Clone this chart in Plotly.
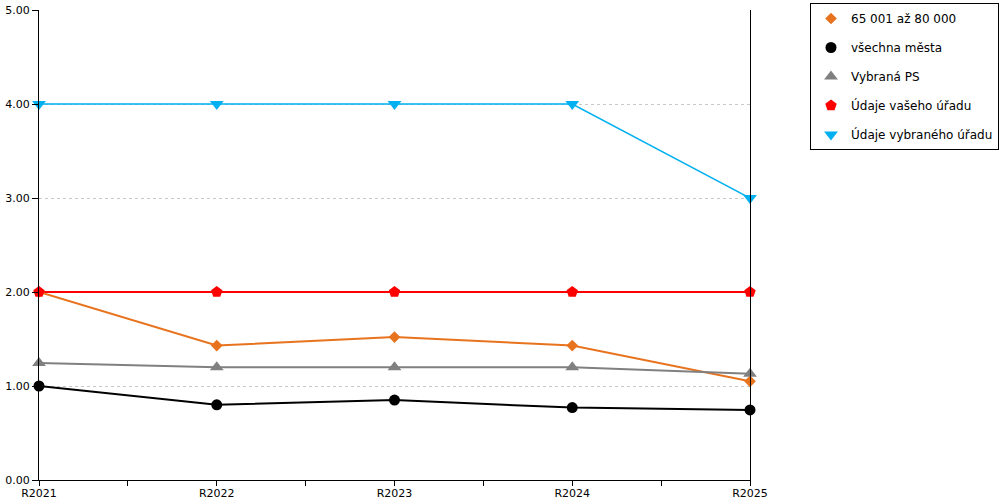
import plotly.graph_objects as go

categories = ["R2021", "R2022", "R2023", "R2024", "R2025"]
s_orange = [2.00, 1.43, 1.52, 1.43, 1.05]
s_black = [1.00, 0.80, 0.85, 0.77, 0.745]
s_gray = [1.245, 1.20, 1.20, 1.20, 1.13]
s_red = [2.00, 2.00, 2.00, 2.00, 2.00]
s_blue = [4.00, 4.00, 4.00, 4.00, 3.00]

names = ["65 001 až 80 000", "všechna města", "Vybraná PS", "Údaje vašeho úřadu", "Údaje vybraného úřadu"]
series = [s_orange, s_black, s_gray, s_red, s_blue]
colors = ["#E8731E", "#000000", "#808080", "#FF0000", "#00B0F0"]
symbols = ["diamond", "circle", "triangle-up", "pentagon", "triangle-down"]
sizes = [9, 11, 12, 12, 12]
widths = [2, 2, 2, 2, 1.5]

x = list(range(len(categories)))
fig = go.Figure()
for i in range(len(series)):
    fig.add_trace(go.Scatter(
        x=x, y=series[i], name=names[i], mode="lines",
        line=dict(color=colors[i], width=widths[i]),
        showlegend=False, hoverinfo="skip", cliponaxis=False,
    ))
for i in range(len(series)):
    fig.add_trace(go.Scatter(
        x=x, y=series[i], name=names[i], mode="markers",
        marker=dict(symbol=symbols[i], size=sizes[i], color=colors[i]),
        legendgroup="g%d" % i, cliponaxis=False,
    ))

tickvals = [v / 2 for v in range(2 * len(categories) - 1)]
ticktext = [categories[int(v)] if v == int(v) else "" for v in tickvals]

fig.update_layout(
    width=1000, height=500,
    margin=dict(l=39, r=250, t=10, b=20, autoexpand=False),
    paper_bgcolor="white", plot_bgcolor="white",
    font=dict(family="DejaVu Sans", size=11, color="#000000"),
    showlegend=True,
    legend=dict(
        xref="container", yref="container",
        x=0.81, y=0.994, xanchor="left", yanchor="top",
        bordercolor="#000000", borderwidth=1,
        font=dict(size=12, family="DejaVu Sans"),
        traceorder="grouped", tracegroupgap=10,
        itemwidth=30,
    ),
    xaxis=dict(
        range=[0, 4], tickvals=tickvals, ticktext=ticktext,
        showline=True, linecolor="#000000", linewidth=1,
        ticks="outside", ticklen=5, tickcolor="#000000",
        ticklabelstandoff=-2,
        showgrid=False, zeroline=False, automargin=False,
    ),
    yaxis=dict(
        range=[0, 5], tickvals=[0, 1, 2, 3, 4, 5], tickformat=".2f",
        showline=True, linecolor="#000000", linewidth=1, mirror=True,
        ticks="outside", ticklen=6, tickcolor="#000000",
        showgrid=True, gridcolor="#C8C8C8", griddash="dot", gridwidth=1,
        zeroline=False, automargin=False,
    ),
)
fig.write_html("out.html", config={"displayModeBar": False})

with open("out.html", "r", encoding="utf-8") as f:
    html = f.read()
html = html.replace("<head>", "<head><style>html,body{margin:0;padding:0;overflow:hidden;}</style>", 1)
with open("out.html", "w", encoding="utf-8") as f:
    f.write(html)
